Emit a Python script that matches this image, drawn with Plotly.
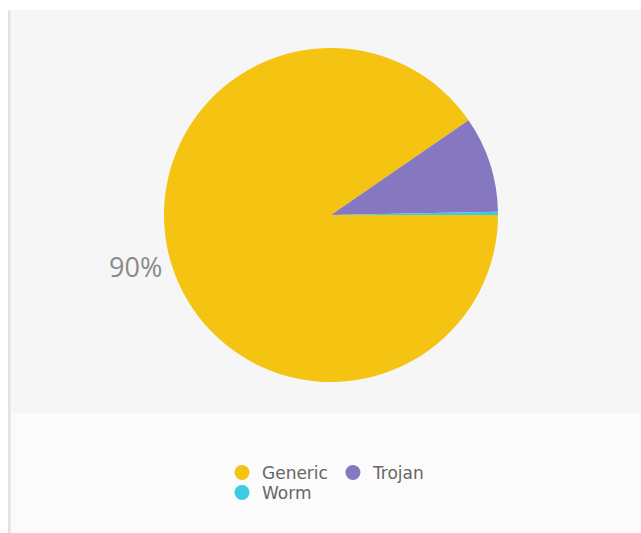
import plotly.graph_objects as go

# Share of detections by malware family (percent)
categories = ["Generic", "Trojan", "Worm"]
shares = [90.4, 9.3, 0.3]
colors = ["#f5c412", "#8677c1", "#3ccbe2"]
# only the dominant family carries a percentage label
label_templates = ["%{percent:.0%}", "", ""]

W, H = 641, 533

def px_x(p):
    return p / W

def px_y(p):
    return 1 - p / H

cx, cy, r = 331, 215, 167

fig = go.Figure()

fig.add_trace(go.Pie(
    labels=categories,
    values=shares,
    sort=False,
    direction="clockwise",
    rotation=90,
    marker=dict(colors=colors, line=dict(width=0)),
    texttemplate=label_templates,
    textposition="outside",
    outsidetextfont=dict(family="Open Sans", size=27, color="#8a8a8a"),
    showlegend=False,
    hoverinfo="label+percent",
    domain=dict(x=[px_x(cx - r), px_x(cx + r)], y=[px_y(cy + r), px_y(cy - r)]),
))

# Legend entries with round swatches; Worm sits on its own second row
for name, col in zip(categories, colors):
    fig.add_trace(go.Scatter(
        x=[None], y=[None], mode="markers", name=name,
        marker=dict(color=col, size=15, symbol="circle"),
        legend="legend2" if name == "Worm" else "legend",
        hoverinfo="skip",
    ))

legend_style = dict(
    orientation="h",
    xref="container", yref="container",
    xanchor="left", yanchor="top",
    bgcolor="rgba(0,0,0,0)",
    font=dict(family="DejaVu Sans", size=17, color="#666666"),
    itemsizing="trace",
    borderwidth=0,
)

fig.update_layout(
    width=W, height=H,
    margin=dict(l=0, r=0, t=0, b=0, autoexpand=False),
    paper_bgcolor="#ffffff",
    plot_bgcolor="rgba(0,0,0,0)",
    xaxis=dict(visible=False, fixedrange=True),
    yaxis=dict(visible=False, fixedrange=True),
    legend=dict(x=222 / W, y=1 - 455 / H, **legend_style),
    legend2=dict(x=222 / W, y=1 - 475 / H, **legend_style),
    shapes=[
        # chart panel
        dict(type="rect", xref="paper", yref="paper", layer="below",
             x0=px_x(10), x1=1, y0=px_y(413), y1=px_y(10),
             fillcolor="#f6f6f6", line=dict(width=0)),
        # legend panel
        dict(type="rect", xref="paper", yref="paper", layer="below",
             x0=px_x(10), x1=1, y0=0, y1=px_y(413),
             fillcolor="#fbfbfb", line=dict(width=0)),
        # left border
        dict(type="rect", xref="paper", yref="paper", layer="below",
             x0=px_x(8), x1=px_x(10.5), y0=0, y1=px_y(10),
             fillcolor="#e2e2e2", line=dict(width=0)),
    ],
)

fig.write_html("out.html")
